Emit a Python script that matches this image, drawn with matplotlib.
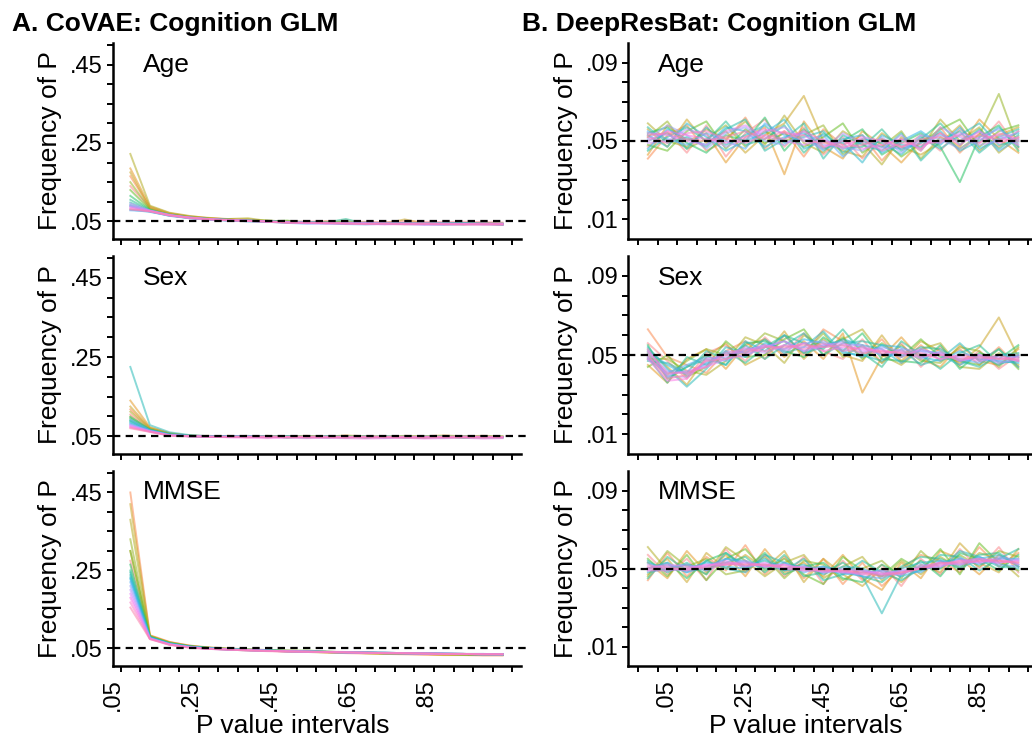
import numpy as np
import matplotlib
matplotlib.use('Agg')
import matplotlib.pyplot as plt
import seaborn as sns

plt.rcParams['font.family'] = ['Liberation Sans', 'DejaVu Sans']

# P value intervals (one point per interval)
p_bins = [0.05, 0.10, 0.15, 0.20, 0.25, 0.30, 0.35, 0.40, 0.45, 0.50,
          0.55, 0.60, 0.65, 0.70, 0.75, 0.80, 0.85, 0.90, 0.95, 1.00]
x_labels = ['.05', '.25', '.45', '.65', '.85']
x_label_vals = [0.05, 0.25, 0.45, 0.65, 0.85]

# frequencies, in thousandths
covae_age = [
    [140, 84, 70, 62, 58, 55, 52, 50, 50, 49, 51, 50, 49, 48, 50, 49, 48, 49, 48, 47],
    [165, 86, 69, 61, 57, 56, 53, 50, 48, 49, 47, 46, 47, 45, 46, 44, 45, 44, 45, 43],
    [185, 88, 71, 63, 59, 55, 52, 51, 49, 48, 48, 46, 45, 46, 44, 45, 43, 45, 44, 44],
    [175, 83, 68, 62, 57, 54, 56, 50, 50, 47, 48, 47, 45, 44, 55, 45, 44, 43, 45, 43],
    [222, 90, 72, 64, 58, 56, 58, 51, 49, 48, 47, 47, 46, 45, 45, 44, 46, 44, 43, 44],
    [150, 82, 68, 60, 56, 54, 52, 53, 48, 47, 49, 46, 45, 47, 44, 44, 45, 43, 44, 42],
    [130, 80, 67, 61, 57, 55, 51, 50, 52, 47, 46, 48, 45, 44, 45, 46, 43, 44, 45, 43],
    [115, 79, 66, 59, 56, 53, 52, 49, 48, 49, 46, 45, 47, 45, 43, 44, 45, 46, 43, 44],
    [105, 78, 67, 60, 55, 54, 51, 50, 48, 47, 47, 56, 44, 46, 45, 43, 44, 44, 45, 43],
    [98, 77, 66, 59, 56, 52, 53, 49, 47, 48, 46, 45, 46, 44, 45, 44, 43, 45, 44, 42],
    [92, 76, 65, 60, 55, 54, 50, 51, 48, 46, 47, 46, 44, 45, 44, 45, 44, 43, 44, 44],
    [88, 75, 64, 58, 56, 53, 52, 49, 49, 47, 45, 47, 45, 43, 46, 44, 45, 44, 43, 43],
    [80, 74, 65, 59, 54, 52, 51, 50, 47, 48, 46, 44, 46, 45, 44, 43, 44, 45, 44, 42],
    [78, 76, 66, 58, 55, 53, 50, 49, 46, 44, 45, 43, 42, 44, 43, 42, 41, 42, 43, 41],
    [90, 77, 64, 60, 56, 52, 52, 50, 47, 47, 45, 46, 45, 44, 44, 45, 44, 43, 44, 43],
    [95, 78, 67, 59, 55, 54, 51, 49, 48, 46, 46, 45, 46, 45, 43, 44, 45, 44, 43, 44],
    [88, 77, 66, 60, 56, 53, 52, 50, 47, 45, 44, 44, 43, 42, 43, 41, 42, 43, 41, 42],
    [85, 76, 65, 59, 55, 54, 51, 49, 48, 47, 46, 45, 45, 44, 45, 44, 43, 44, 44, 44],
    [82, 75, 66, 58, 56, 52, 52, 50, 47, 46, 47, 45, 44, 45, 44, 45, 44, 43, 45, 43],
    [80, 76, 65, 60, 55, 53, 51, 49, 46, 47, 45, 44, 43, 44, 42, 43, 42, 41, 42, 41],
]
covae_sex = [
    [105, 68, 56, 51, 49, 50, 48, 49, 47, 50, 48, 49, 47, 48, 49, 47, 48, 50, 48, 47],
    [118, 70, 57, 52, 50, 48, 49, 47, 50, 48, 49, 47, 49, 48, 47, 49, 47, 48, 49, 48],
    [140, 73, 58, 51, 49, 51, 47, 50, 50, 51, 49, 52, 50, 49, 51, 50, 52, 50, 51, 50],
    [125, 71, 57, 50, 51, 49, 50, 48, 49, 47, 50, 48, 47, 49, 48, 46, 49, 48, 47, 49],
    [112, 69, 56, 52, 50, 48, 49, 51, 47, 48, 49, 47, 50, 48, 47, 48, 49, 47, 48, 48],
    [100, 67, 55, 51, 49, 50, 48, 49, 48, 50, 47, 49, 48, 47, 49, 48, 47, 49, 48, 47],
    [95, 66, 55, 50, 50, 49, 51, 48, 49, 47, 48, 50, 47, 48, 48, 49, 48, 46, 49, 48],
    [90, 66, 54, 51, 48, 50, 49, 50, 47, 49, 48, 47, 49, 47, 48, 47, 50, 48, 47, 48],
    [98, 67, 55, 50, 49, 48, 50, 47, 50, 48, 49, 48, 47, 50, 47, 48, 47, 49, 48, 49],
    [88, 65, 54, 51, 50, 49, 48, 49, 48, 47, 50, 48, 49, 47, 49, 48, 49, 47, 48, 47],
    [225, 78, 60, 53, 50, 49, 50, 48, 49, 48, 47, 49, 48, 49, 47, 49, 48, 48, 47, 48],
    [85, 64, 54, 50, 49, 50, 48, 49, 47, 49, 48, 47, 48, 48, 49, 47, 48, 49, 48, 47],
    [82, 64, 53, 51, 48, 49, 49, 48, 49, 48, 48, 49, 47, 48, 48, 48, 47, 48, 49, 48],
    [92, 65, 54, 50, 50, 48, 50, 49, 48, 47, 49, 48, 49, 47, 48, 49, 48, 47, 48, 48],
    [80, 63, 53, 50, 49, 49, 48, 48, 49, 48, 47, 48, 48, 49, 47, 48, 48, 48, 47, 48],
    [78, 63, 53, 51, 48, 50, 49, 48, 48, 49, 48, 47, 49, 48, 48, 47, 49, 48, 48, 47],
    [76, 62, 52, 50, 49, 48, 49, 49, 48, 48, 49, 48, 48, 47, 48, 48, 47, 49, 48, 48],
    [74, 62, 52, 50, 49, 47, 46, 45, 46, 45, 46, 45, 44, 45, 46, 44, 45, 46, 44, 45],
    [72, 61, 52, 49, 48, 49, 48, 49, 48, 48, 47, 48, 48, 48, 47, 48, 48, 48, 48, 48],
    [70, 61, 51, 50, 49, 48, 49, 48, 48, 48, 48, 47, 48, 48, 48, 47, 48, 48, 47, 48],
]
covae_mmse = [
    [275, 80, 66, 58, 52, 49, 47, 45, 44, 43, 42, 41, 40, 39, 38, 37, 37, 36, 35, 35],
    [450, 84, 67, 57, 51, 48, 46, 44, 42, 41, 40, 38, 37, 36, 35, 34, 33, 33, 32, 32],
    [300, 82, 65, 56, 52, 49, 47, 45, 43, 42, 40, 39, 38, 37, 36, 35, 34, 34, 33, 33],
    [420, 83, 66, 57, 53, 50, 48, 46, 45, 43, 41, 40, 39, 38, 37, 36, 35, 35, 34, 34],
    [380, 82, 64, 55, 51, 48, 46, 44, 43, 42, 41, 40, 38, 37, 36, 36, 35, 34, 34, 33],
    [330, 81, 65, 56, 50, 47, 45, 44, 43, 41, 40, 39, 38, 37, 37, 36, 35, 35, 34, 34],
    [300, 80, 63, 55, 51, 49, 47, 46, 44, 45, 42, 40, 39, 38, 37, 37, 36, 35, 35, 34],
    [265, 79, 64, 56, 52, 48, 46, 45, 43, 42, 41, 40, 39, 38, 38, 37, 36, 36, 35, 35],
    [250, 80, 63, 55, 50, 49, 47, 45, 44, 43, 41, 40, 39, 39, 38, 37, 36, 36, 35, 35],
    [245, 78, 62, 54, 51, 48, 46, 44, 43, 42, 42, 40, 39, 38, 37, 37, 36, 35, 35, 34],
    [238, 79, 63, 55, 50, 48, 47, 45, 44, 42, 41, 41, 40, 39, 38, 37, 37, 36, 35, 35],
    [232, 78, 62, 54, 50, 47, 46, 44, 43, 42, 41, 40, 39, 38, 38, 37, 36, 36, 36, 35],
    [228, 77, 62, 55, 51, 48, 46, 45, 43, 42, 41, 40, 40, 39, 38, 37, 37, 36, 36, 35],
    [220, 77, 61, 54, 50, 48, 46, 44, 43, 42, 41, 40, 39, 39, 38, 37, 37, 36, 35, 35],
    [210, 76, 61, 53, 50, 47, 45, 44, 43, 42, 41, 40, 39, 38, 38, 37, 36, 36, 35, 35],
    [200, 76, 60, 54, 49, 47, 46, 44, 43, 42, 41, 40, 39, 38, 37, 37, 36, 36, 35, 35],
    [190, 75, 61, 53, 50, 48, 45, 44, 43, 42, 41, 40, 39, 39, 38, 37, 37, 36, 36, 35],
    [180, 75, 60, 53, 49, 47, 46, 44, 42, 42, 41, 40, 39, 38, 38, 37, 36, 36, 35, 35],
    [168, 74, 60, 52, 49, 47, 45, 44, 43, 41, 41, 40, 39, 38, 37, 37, 36, 36, 35, 35],
    [155, 74, 59, 52, 49, 47, 45, 43, 42, 42, 40, 40, 39, 38, 38, 37, 36, 36, 35, 35],
]
deepresbat_age = [
    [47, 55, 44, 58, 42, 54, 61, 47, 57, 43, 52, 41, 50, 46, 53, 45, 56, 49, 60, 46],
    [41, 53, 58, 45, 50, 62, 46, 55, 42, 56, 48, 53, 40, 51, 45, 57, 44, 54, 47, 55],
    [43, 58, 50, 54, 39, 52, 57, 33, 60, 47, 41, 55, 48, 39, 50, 54, 47, 61, 51, 44],
    [56, 47, 61, 49, 55, 44, 53, 59, 73, 50, 45, 42, 54, 47, 43, 49, 58, 45, 53, 57],
    [59, 50, 47, 56, 51, 60, 48, 63, 49, 44, 55, 49, 38, 52, 46, 61, 50, 57, 44, 52],
    [52, 60, 46, 51, 58, 47, 55, 50, 53, 58, 43, 50, 47, 55, 41, 52, 46, 53, 74, 47],
    [48, 45, 55, 60, 46, 56, 49, 54, 47, 52, 59, 44, 51, 42, 49, 56, 61, 47, 55, 58],
    [54, 57, 49, 44, 53, 50, 62, 45, 56, 46, 50, 56, 43, 49, 54, 47, 29, 52, 58, 45],
    [45, 52, 57, 50, 60, 48, 51, 58, 44, 54, 46, 47, 56, 45, 51, 59, 48, 56, 46, 53],
    [57, 49, 52, 47, 56, 61, 45, 51, 59, 41, 53, 48, 45, 54, 40, 50, 55, 44, 52, 56],
    [50, 54, 46, 57, 48, 53, 58, 49, 52, 55, 44, 51, 49, 43, 52, 46, 53, 59, 48, 50],
    [53, 47, 59, 52, 45, 50, 54, 61, 46, 50, 49, 39, 53, 48, 47, 55, 45, 50, 57, 47],
    [46, 56, 51, 48, 57, 55, 47, 52, 54, 45, 51, 53, 44, 50, 55, 48, 57, 46, 51, 54],
    [55, 51, 48, 54, 50, 46, 59, 53, 50, 53, 42, 50, 47, 46, 49, 53, 50, 55, 45, 51],
    [51, 58, 53, 46, 54, 57, 50, 48, 55, 48, 47, 45, 52, 44, 53, 51, 46, 52, 56, 49],
    [49, 50, 56, 53, 47, 51, 55, 57, 51, 46, 54, 49, 46, 53, 45, 57, 52, 48, 50, 55],
    [54, 53, 50, 48, 55, 58, 52, 50, 48, 51, 46, 52, 50, 47, 50, 49, 54, 51, 53, 48],
    [50, 55, 53, 51, 49, 52, 56, 54, 53, 47, 50, 46, 48, 51, 46, 54, 48, 55, 49, 52],
    [52, 49, 54, 55, 51, 49, 53, 51, 55, 50, 48, 51, 45, 49, 48, 50, 53, 49, 54, 51],
    [53, 54, 51, 50, 52, 55, 51, 55, 50, 49, 47, 48, 51, 47, 51, 52, 50, 53, 51, 50],
]
deepresbat_sex = [
    [56, 47, 38, 51, 55, 47, 59, 50, 61, 52, 48, 58, 46, 56, 44, 54, 45, 52, 43, 50],
    [63, 49, 45, 41, 52, 57, 48, 60, 50, 63, 57, 49, 58, 46, 55, 47, 53, 45, 54, 44],
    [45, 36, 48, 53, 43, 55, 58, 49, 57, 48, 61, 31, 49, 59, 48, 44, 55, 47, 45, 53],
    [53, 44, 35, 49, 56, 45, 50, 62, 48, 58, 50, 47, 60, 47, 57, 52, 46, 54, 69, 49],
    [48, 48, 42, 40, 47, 59, 55, 46, 60, 54, 58, 63, 50, 45, 53, 56, 44, 43, 51, 45],
    [51, 40, 47, 53, 50, 52, 61, 57, 51, 61, 49, 55, 46, 55, 47, 46, 54, 52, 44, 54],
    [44, 50, 39, 44, 57, 49, 50, 58, 63, 50, 59, 48, 56, 49, 58, 49, 47, 45, 53, 43],
    [55, 38, 44, 50, 45, 56, 57, 52, 49, 59, 52, 61, 48, 47, 46, 55, 43, 51, 48, 55],
    [49, 36, 49, 45, 52, 46, 54, 60, 56, 53, 63, 51, 44, 57, 50, 43, 51, 55, 46, 47],
    [47, 46, 41, 52, 48, 55, 48, 55, 61, 50, 56, 57, 55, 49, 54, 53, 47, 44, 50, 51],
    [54, 43, 34, 43, 54, 51, 58, 51, 54, 62, 51, 50, 47, 53, 45, 48, 56, 47, 53, 44],
    [50, 39, 44, 48, 45, 57, 52, 60, 51, 54, 58, 55, 53, 46, 53, 50, 45, 50, 45, 50],
    [52, 45, 40, 46, 51, 49, 56, 53, 58, 56, 52, 49, 55, 54, 49, 47, 52, 48, 47, 46],
    [48, 41, 45, 49, 47, 53, 54, 57, 52, 55, 57, 54, 50, 50, 52, 51, 48, 46, 50, 49],
    [51, 42, 41, 45, 52, 51, 55, 52, 56, 57, 53, 51, 54, 52, 48, 52, 47, 49, 47, 50],
    [53, 39, 39, 47, 49, 54, 51, 55, 54, 54, 55, 55, 50, 53, 52, 48, 50, 50, 46, 48],
    [49, 40, 42, 44, 48, 50, 54, 57, 52, 55, 56, 52, 53, 49, 53, 50, 49, 47, 49, 47],
    [48, 37, 38, 48, 50, 52, 55, 53, 56, 52, 54, 53, 52, 51, 49, 51, 47, 50, 48, 49],
    [52, 41, 41, 44, 51, 53, 52, 55, 53, 56, 52, 54, 51, 52, 51, 48, 50, 48, 50, 47],
    [50, 38, 40, 47, 48, 51, 54, 54, 55, 54, 55, 51, 52, 51, 50, 50, 48, 49, 48, 48],
]
deepresbat_mmse = [
    [57, 47, 55, 44, 60, 48, 57, 46, 56, 42, 54, 44, 52, 41, 55, 47, 60, 50, 61, 48],
    [44, 58, 46, 56, 49, 62, 47, 56, 45, 55, 42, 53, 41, 50, 57, 54, 48, 61, 51, 58],
    [53, 45, 59, 48, 57, 46, 60, 48, 53, 46, 57, 45, 39, 53, 45, 59, 55, 47, 57, 51],
    [47, 55, 43, 58, 50, 57, 50, 59, 43, 55, 47, 41, 50, 43, 52, 48, 63, 53, 48, 60],
    [61, 49, 52, 47, 61, 54, 46, 53, 57, 45, 51, 56, 44, 54, 47, 56, 50, 58, 55, 46],
    [46, 59, 51, 55, 47, 49, 56, 45, 54, 52, 44, 50, 54, 45, 59, 50, 57, 51, 59, 56],
    [55, 46, 57, 44, 55, 60, 49, 55, 47, 42, 56, 49, 46, 55, 49, 60, 47, 63, 53, 49],
    [50, 53, 45, 54, 58, 50, 58, 47, 51, 53, 45, 43, 52, 47, 54, 46, 58, 55, 49, 57],
    [45, 56, 49, 50, 53, 56, 48, 57, 46, 48, 53, 46, 43, 51, 56, 55, 51, 57, 58, 51],
    [54, 48, 53, 47, 58, 51, 54, 49, 55, 44, 47, 54, 48, 44, 50, 57, 56, 49, 55, 60],
    [50, 52, 48, 54, 50, 48, 57, 53, 50, 51, 48, 46, 27, 47, 51, 50, 59, 56, 51, 50],
    [48, 50, 52, 49, 55, 54, 50, 50, 52, 47, 51, 50, 46, 50, 53, 54, 50, 55, 57, 52],
    [53, 49, 50, 53, 51, 50, 55, 49, 50, 50, 47, 48, 49, 46, 49, 53, 55, 52, 55, 55],
    [50, 53, 48, 51, 55, 53, 51, 53, 48, 51, 49, 46, 45, 49, 48, 54, 52, 56, 52, 51],
    [49, 51, 52, 49, 53, 51, 52, 50, 51, 48, 50, 49, 47, 47, 52, 51, 55, 53, 56, 54],
    [52, 50, 49, 52, 52, 54, 51, 52, 49, 49, 48, 47, 49, 48, 50, 52, 53, 55, 53, 55],
    [50, 52, 51, 51, 54, 51, 53, 50, 51, 48, 49, 49, 47, 49, 50, 51, 54, 53, 55, 52],
    [49, 49, 50, 52, 52, 53, 51, 52, 50, 50, 48, 48, 48, 47, 51, 53, 52, 54, 53, 54],
    [51, 51, 49, 51, 53, 52, 52, 50, 49, 49, 49, 47, 47, 48, 50, 52, 54, 55, 54, 53],
    [50, 50, 50, 50, 52, 52, 52, 51, 50, 49, 49, 48, 46, 48, 50, 53, 53, 54, 54, 53],
]

fig = plt.figure(figsize=(10.32, 7.42), dpi=100)

# axes boxes in figure fractions: left column / right column, three rows
col_x = [(0.1092, 0.3956), (0.6085, 0.3915)]
row_y = [(0.6779, 0.2642), (0.3881, 0.2668), (0.1024, 0.2628)]

columnas = [
    dict(data=[covae_age, covae_sex, covae_mmse], ylim=(0.005, 0.505),
         yt=[0.05, 0.25, 0.45], ytl=['.05', '.25', '.45'],
         ym=[0.10, 0.15, 0.20, 0.30, 0.35, 0.40, 0.50],
         xlim=(0.006, 1.047), shift=-0.045, titulo='A. CoVAE: Cognition GLM',
         tx=12),
    dict(data=[deepresbat_age, deepresbat_sex, deepresbat_mmse], ylim=(0.0, 0.1),
         yt=[0.01, 0.05, 0.09], ytl=['.01', '.05', '.09'],
         ym=[0.02, 0.03, 0.04, 0.06, 0.07, 0.08],
         xlim=(-0.001, 1.035), shift=0.045, titulo='B. DeepResBat: Cognition GLM',
         tx=522),
]
nombres = ['Age', 'Sex', 'MMSE']

for c, col in enumerate(columnas):
    for r in range(3):
        ax = fig.add_axes([col_x[c][0], row_y[r][0], col_x[c][1], row_y[r][1]])
        curvas = col['data'][r]
        colores = sns.husl_palette(len(curvas), h=0.03, s=0.95, l=0.7)
        for color, y in zip(colores, curvas):
            ax.plot(p_bins, np.array(y) / 1000, color=color, lw=1.4, alpha=0.55)
        ax.axhline(0.05, color='black', lw=1.6, dashes=(3.3, 2.4), xmax=1.02,
                   clip_on=False, zorder=5)

        ax.set_xlim(*col['xlim'])
        ax.set_ylim(*col['ylim'])
        for s in ['top', 'right']:
            ax.spines[s].set_visible(False)
        for s in ['left', 'bottom']:
            ax.spines[s].set_linewidth(1.8)

        ax.set_yticks(col['yt'])
        ax.set_yticklabels(col['ytl'], fontsize=17)
        ax.set_yticks(col['ym'], minor=True)
        ax.set_xticks([v + col['shift'] for v in x_label_vals])
        ax.set_xticks([b - 0.025 for b in p_bins] + [1.025], minor=True)
        if r == 2:
            ax.set_xticklabels(x_labels, fontsize=17, rotation=90)
            ax.set_xlabel('P value intervals', fontsize=19, va='top')
            ax.xaxis.set_label_coords(0.44, -0.245)
        else:
            ax.set_xticklabels([])
        ax.tick_params(which='both', direction='out', length=4, width=1.4)
        ax.tick_params(axis='x', which='major', length=0, pad=9)
        ax.tick_params(axis='y', which='major', pad=3)

        ax.set_ylabel('Frequency of P', fontsize=19)
        ax.yaxis.set_label_coords(-0.123, 0.5)
        ax.text(0.075, 0.89, nombres[r], transform=ax.transAxes, fontsize=19,
                va='center', ha='left')

    fig.text(col['tx'] / 1032, 1 - 31.5 / 742, col['titulo'], fontsize=19,
             fontweight='bold', va='baseline', ha='left')

fig.savefig('out.png', dpi=100)
